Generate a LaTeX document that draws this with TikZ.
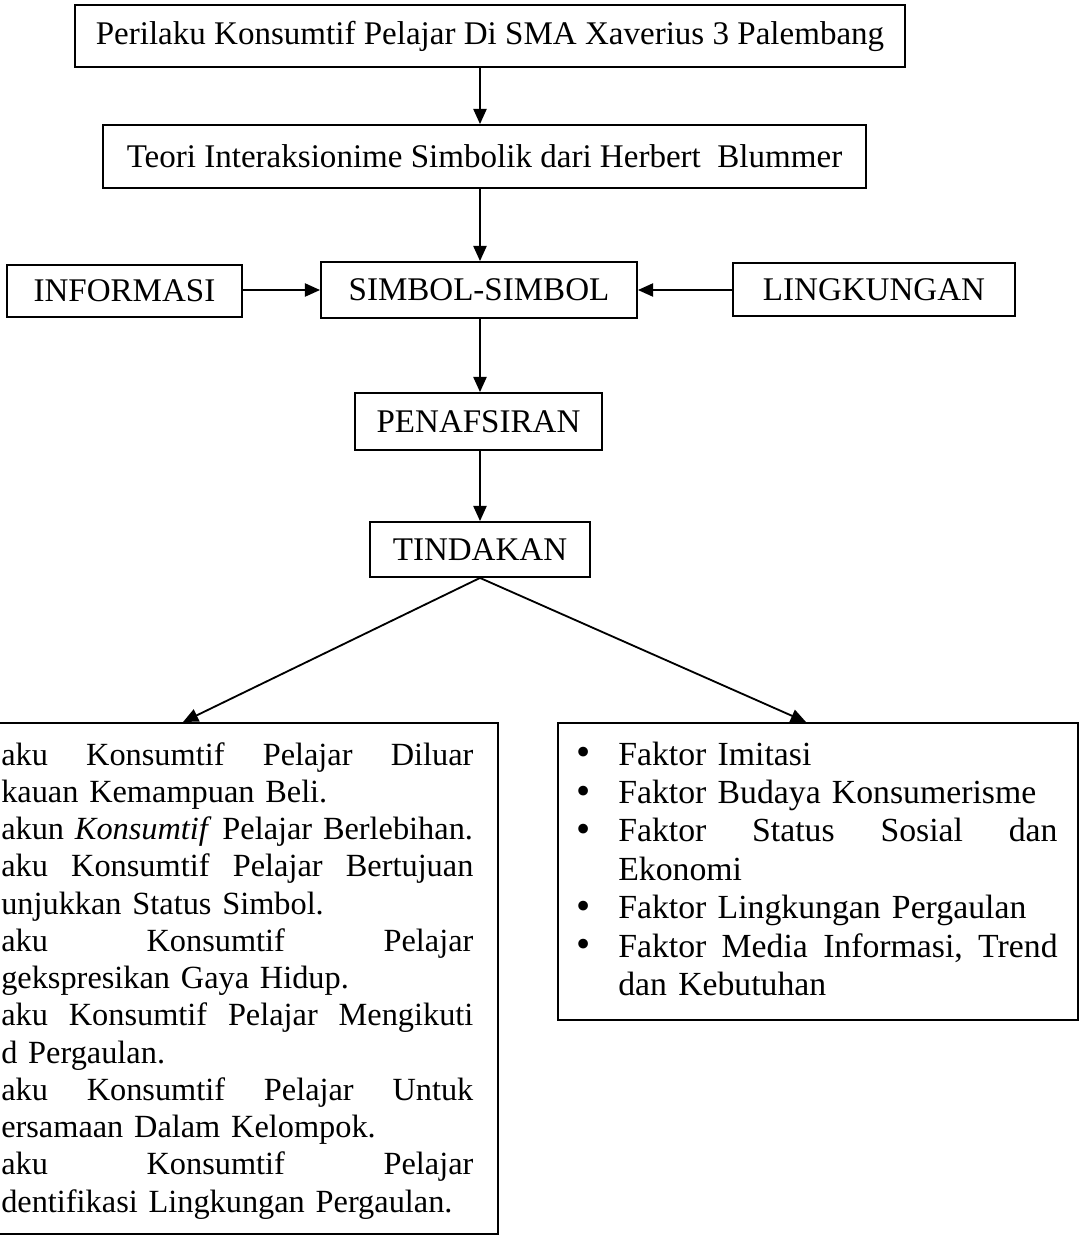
\documentclass[tikz,border=0pt]{standalone}
\usepackage{fontspec}
\setmainfont{Liberation Serif}
\usetikzlibrary{arrows.meta, positioning}

\tikzset{
  kotak/.style={draw, line width=1.3pt, inner sep=0pt, align=center,
    font=\fontsize{23.5}{28}\selectfont},
  panah/.style={line width=1.3pt, -{Triangle[length=0.38cm, width=0.33cm]}},
  isi/.style={inner sep=0pt, anchor=north west, align=left}
}
\newcommand{\butir}[1]{\makebox[1.05cm][l]{\raisebox{-0.5pt}{\scalebox{1.2}{\textbullet}}}#1}
\newcommand{\ratakiri}[1]{\makebox[11.8cm][l]{#1}}
\newcommand{\ratakanan}[1]{\makebox[10.98cm][l]{#1}}

\begin{document}
\begin{tikzpicture}[x=0.025cm, y=-0.025cm]
  \useasboundingbox (0,0) rectangle (1081,1239);
  % Alur utama
  \node[kotak, minimum width=20.75cm, minimum height=1.55cm] (judul) at (490,36)
    {Perilaku Konsumtif Pelajar Di SMA Xaverius 3 Palembang};
  \node[kotak, minimum width=19.075cm, minimum height=1.575cm] (teori) at (484.5,156.5)
    {Teori Interaksionime Simbolik dari Herbert~ Blummer};
  \node[kotak, minimum width=5.875cm, minimum height=1.3cm] (informasi) at (124.5,291)
    {INFORMASI};
  \node[kotak, minimum width=7.9cm, minimum height=1.4cm] (simbol) at (479,290)
    {SIMBOL-SIMBOL};
  \node[kotak, minimum width=7.05cm, minimum height=1.325cm] (lingkungan) at (874,289.5)
    {LINGKUNGAN};
  \node[kotak, minimum width=6.175cm, minimum height=1.425cm] (penafsiran) at (478.5,421.5)
    {PENAFSIRAN};
  \node[kotak, minimum width=5.5cm, minimum height=1.375cm] (tindakan) at (480,549.5)
    {TINDAKAN};
  % Kotak bawah
  \node[kotak, anchor=north west, minimum width=12.925cm, minimum height=12.775cm]
    (dampak) at (-20,722) {};
  \node[kotak, anchor=north west, minimum width=13cm, minimum height=7.425cm]
    (faktor) at (557,722) {};
  \coordinate (ujungkiri) at (183,722);
  \coordinate (ujungkanan) at (806,722);
  % Isi kotak kiri
  \node[isi, text width=12.6cm, font=\fontsize{23}{26.5}\selectfont] (isidampak) at (1,742)
    {\ratakiri{aku\hfill Konsumtif\hfill Pelajar\hfill Diluar}\\
     kauan Kemampuan Beli.\\
     akun \textit{Konsumtif} Pelajar Berlebihan.\\
     \ratakiri{aku\hfill Konsumtif\hfill Pelajar\hfill Bertujuan}\\
     unjukkan Status Simbol.\\
     \ratakiri{aku\hfill Konsumtif\hfill Pelajar}\\
     gekspresikan Gaya Hidup.\\
     \ratakiri{aku\hfill Konsumtif\hfill Pelajar\hfill Mengikuti}\\
     d Pergaulan.\\
     \ratakiri{aku\hfill Konsumtif\hfill Pelajar\hfill Untuk}\\
     ersamaan Dalam Kelompok.\\
     \ratakiri{aku\hfill Konsumtif\hfill Pelajar}\\
     dentifikasi Lingkungan Pergaulan.};
  % Isi kotak kanan
  \node[isi, text width=12.3cm, font=\fontsize{24}{27.3}\selectfont] (isifaktor) at (576,741.5)
    {\butir{Faktor Imitasi}\\
     \butir{Faktor Budaya Konsumerisme}\\
     \butir{\ratakanan{Faktor\hfill Status\hfill Sosial\hfill dan}}\\
     \hspace*{1.05cm}Ekonomi\\
     \butir{Faktor Lingkungan Pergaulan}\\
     \butir{\ratakanan{Faktor\hfill Media\hfill Informasi,\hfill Trend}}\\
     \hspace*{1.05cm}dan Kebutuhan};
  % Panah
  \draw[panah] (judul.south -| tindakan.north) -- (teori.north -| tindakan.north);
  \draw[panah] (teori.south -| tindakan.north) -- (simbol.north -| tindakan.north);
  \draw[panah] (informasi.east |- simbol.west) -- (simbol.west);
  \draw[panah] (lingkungan.west |- simbol.east) -- (simbol.east);
  \draw[panah] (simbol.south -| tindakan.north) -- (penafsiran.north -| tindakan.north);
  \draw[panah] (penafsiran.south -| tindakan.north) -- (tindakan.north);
  \draw[panah] (tindakan.south) -- (ujungkiri);
  \draw[panah] (tindakan.south) -- (ujungkanan);
\end{tikzpicture}
\end{document}
